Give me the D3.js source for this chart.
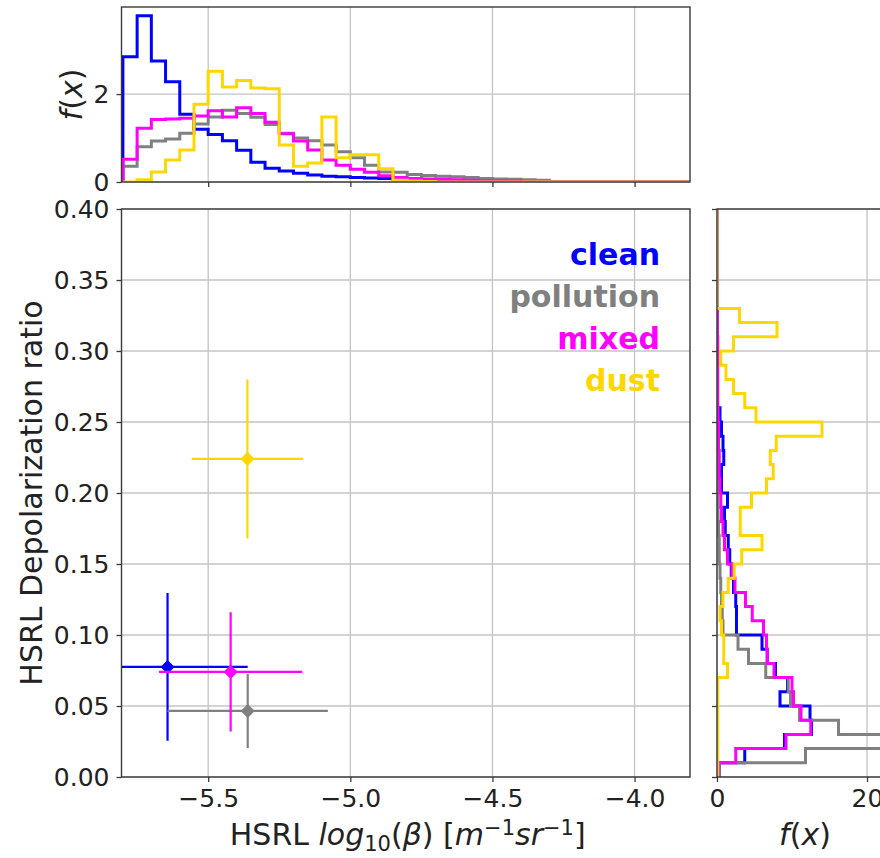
<!DOCTYPE html>
<html><head><meta charset="utf-8">
<script src="https://cdn.jsdelivr.net/npm/d3@7"></script>
<style>
body{margin:0;background:#fff}
text{font-family:'DejaVu Sans',sans-serif;fill:#222}
</style>
</head><body>
<svg id="c" width="880" height="858"></svg>
<script>
// ---------- data ----------
const categories = ["clean", "pollution", "mixed", "dust"];
const colors = ["#0000ff", "#808080", "#ff00ff", "#ffd700"];

// mean / std of log10(beta) and depolarization ratio
const betaMean = [-5.643, -5.361, -5.421, -5.362];
const betaStd = [0.282, 0.282, 0.252, 0.196];
const depolMean = [0.0775, 0.0465, 0.074, 0.224];
const depolStd = [0.052, 0.026, 0.042, 0.056];

// top histogram: bins of log10(beta), start -5.8, width 0.05 (40 bins)
const betaBinStart = -5.8, betaBinWidth = 0.05;
const topClean = [2.85,3.78,2.75,2.28,1.54,1.20,1.08,0.94,0.72,0.45,0.31,0.25,0.20,0.16,0.13,0.12,0.10,0.09,0.08,0.07,0.05,0.04,0.04,0.03,0.03,0.02,0.02,0.01,0.01,0.01,0,0,0,0,0,0,0,0,0,0];
const topPollution = [0.36,0.80,0.93,0.98,1.11,1.32,1.48,1.63,1.56,1.47,1.31,1.11,1.00,0.94,0.84,0.69,0.55,0.38,0.23,0.22,0.17,0.15,0.13,0.12,0.10,0.08,0.07,0.06,0.05,0.04,0,0,0,0,0,0,0,0,0,0];
const topMixed = [0.52,1.22,1.42,1.43,1.45,1.50,1.62,1.48,1.69,1.56,1.36,1.10,0.93,0.73,0.50,0.38,0.29,0.22,0.14,0.10,0.08,0.07,0.06,0.05,0.04,0.03,0.02,0.02,0,0,0,0,0,0,0,0,0,0,0,0];
const topDust = [0,0.05,0.23,0.50,0.73,1.77,2.52,2.16,2.31,2.14,2.12,0.84,0.36,0.43,1.48,0.55,0.62,0.62,0.30,0.04,0.02,0.01,0,0,0,0,0,0,0,0,0,0,0,0,0,0,0,0,0,0];

// right histogram: bins of depolarization ratio, start 0, width 0.01 (40 bins)
const depolBinStart = 0, depolBinWidth = 0.01;
const rightClean = [0.3,3.7,9.0,12.6,12.4,8.4,9.4,7.8,6.7,6.0,2.6,2.6,2.5,2.2,1.9,1.7,1.5,1.1,1.0,1.4,0.6,0.6,0.9,0.8,0.6,0.4,0,0,0,0,0,0,0,0,0,0,0,0,0,0];
const rightPollution = [0.3,11.8,30,16.2,11.0,9.8,9.5,6.5,4.2,2.8,0.8,0.7,0.6,0.5,0.4,0.3,0.3,0.2,0.15,0.1,0.1,0.05,0.05,0.05,0.05,0,0,0,0,0,0,0,0,0,0,0,0,0,0,0];
const rightMixed = [0.2,2.5,9.2,12.5,11.2,10.2,10.0,7.6,6.7,6.6,6.2,4.7,3.8,2.4,2.0,1.4,1.0,0.8,0.6,0.5,0.4,0.3,0.3,0.2,0.2,0.15,0.1,0.1,0.1,0.1,0.1,0.05,0.05,0,0,0,0,0,0,0];
const rightDust = [0.1,0.1,0.1,0.1,0.1,0.1,0.1,1.4,0.9,0.9,0.6,0.4,0.8,1.5,2.3,3.3,6.0,3.1,3.1,4.6,6.6,7.5,7.1,7.9,14.0,5.2,3.7,2.2,1.2,0.5,2.2,8.0,3.0,0,0,0,0,0,0,0];

const xTicks = [-5.5, -5.0, -4.5, -4.0];
const yTicks = [0, 0.05, 0.10, 0.15, 0.20, 0.25, 0.30, 0.35, 0.40];
const topYTicks = [0, 2];
const rightXTicks = [0, 20];

// ---------- layout ----------
const svg = d3.select("#c");
const M = {l: 121.5, r: 690, t: 209, b: 777};
const T = {t: 7, b: 182};
const R = {l: 717, r: 892};

const x = d3.scaleLinear().domain([-5.805, -3.805]).range([M.l, M.r]);
const y = d3.scaleLinear().domain([0, 0.40]).range([M.b, M.t]);
const yTop = d3.scaleLinear().domain([0, 3.98]).range([T.b, T.t]);
const xRight = d3.scaleLinear().domain([0, 23.33]).range([R.l, R.r]);

const gridColor = "#c4c4c4", spineColor = "#3a3a3a";
const tickFont = 25;

const defs = svg.append("defs");
function clip(id, x0, y0, w, h) {
  defs.append("clipPath").attr("id", id).append("rect").attr("x", x0).attr("y", y0).attr("width", w).attr("height", h);
}
clip("cm", M.l, M.t, M.r - M.l, M.b - M.t);
clip("ct", M.l, T.t - 2, M.r - M.l, T.b - T.t + 2);
clip("cr", R.l, M.t, R.r - R.l, M.b - M.t);

function styleAxis(g) {
  g.select(".domain").remove();
  g.selectAll(".tick line").attr("stroke", spineColor).attr("stroke-width", 1.3);
  g.selectAll(".tick text").style("font-size", tickFont + "px").attr("fill", "#222");
}

// ---------- main panel ----------
const gm = svg.append("g");
gm.append("g").selectAll("line").data(xTicks).join("line")
  .attr("x1", d => x(d)).attr("x2", d => x(d)).attr("y1", M.t).attr("y2", M.b)
  .attr("stroke", gridColor).attr("stroke-width", 1.3);
gm.append("g").selectAll("line").data(yTicks).join("line")
  .attr("x1", M.l).attr("x2", M.r).attr("y1", d => y(d)).attr("y2", d => y(d))
  .attr("stroke", gridColor).attr("stroke-width", 1.3);

// error bars
const eb = gm.append("g").attr("clip-path", "url(#cm)");
categories.forEach((c, i) => {
  const g = eb.append("g");
  g.append("line").attr("x1", x(betaMean[i] - betaStd[i])).attr("x2", x(betaMean[i] + betaStd[i]))
    .attr("y1", y(depolMean[i])).attr("y2", y(depolMean[i]))
    .attr("stroke", colors[i]).attr("stroke-width", 2.2);
  g.append("line").attr("x1", x(betaMean[i])).attr("x2", x(betaMean[i]))
    .attr("y1", y(depolMean[i] - depolStd[i])).attr("y2", y(depolMean[i] + depolStd[i]))
    .attr("stroke", colors[i]).attr("stroke-width", 2.2);
  g.append("path").attr("d", d3.symbol(d3.symbolSquare, 100)())
    .attr("transform", `translate(${x(betaMean[i])},${y(depolMean[i])}) rotate(45)`)
    .attr("fill", colors[i]);
});

// legend
const legend = gm.append("g");
categories.forEach((c, i) => {
  legend.append("text").attr("x", 660).attr("y", 265 + i * 42)
    .attr("text-anchor", "end").style("font-size", "30px").style("font-weight", "bold")
    .style("fill", colors[i]).text(c);
});

// axes
const axB = gm.append("g").attr("transform", `translate(0,${M.b})`)
  .call(d3.axisBottom(x).tickValues(xTicks).tickSize(5).tickPadding(7).tickFormat(d3.format(".1f")));
styleAxis(axB);
const axL = gm.append("g").attr("transform", `translate(${M.l},0)`)
  .call(d3.axisLeft(y).tickValues(yTicks).tickSize(5).tickPadding(7).tickFormat(d3.format(".2f")));
styleAxis(axL);
gm.append("rect").attr("x", M.l).attr("y", M.t).attr("width", M.r - M.l).attr("height", M.b - M.t)
  .attr("fill", "none").attr("stroke", spineColor).attr("stroke-width", 1.4);

// labels
const xl = svg.append("text").attr("x", (M.l + M.r) / 2 + 2).attr("y", 845)
  .attr("text-anchor", "middle").style("font-size", "30px");
xl.append("tspan").text("HSRL ");
xl.append("tspan").style("font-style", "italic").text("log");
xl.append("tspan").attr("dy", 6).style("font-size", "21px").text("10");
xl.append("tspan").attr("dy", -6).text("(");
xl.append("tspan").style("font-style", "italic").text("β");
xl.append("tspan").text(") [");
xl.append("tspan").style("font-style", "italic").text("m");
xl.append("tspan").attr("dy", -10).style("font-size", "21px").text("−1");
xl.append("tspan").attr("dy", 10).style("font-style", "italic").text("sr");
xl.append("tspan").attr("dy", -10).style("font-size", "21px").text("−1");
xl.append("tspan").attr("dy", 10).text("]");

svg.append("text").attr("transform", `translate(42,${(M.t + M.b) / 2}) rotate(-90)`)
  .attr("text-anchor", "middle").style("font-size", "30px").text("HSRL Depolarization ratio");

// ---------- top panel ----------
const gt = svg.append("g");
gt.append("g").selectAll("line").data(xTicks).join("line")
  .attr("x1", d => x(d)).attr("x2", d => x(d)).attr("y1", T.t).attr("y2", T.b)
  .attr("stroke", gridColor).attr("stroke-width", 1.3);
gt.append("g").selectAll("line").data(topYTicks).join("line")
  .attr("x1", M.l).attr("x2", M.r).attr("y1", d => yTop(d)).attr("y2", d => yTop(d))
  .attr("stroke", gridColor).attr("stroke-width", 1.3);

function stepTop(vals) {
  const pts = [[betaBinStart, 0]];
  vals.forEach((v, i) => {
    pts.push([betaBinStart + i * betaBinWidth, v]);
    pts.push([betaBinStart + (i + 1) * betaBinWidth, v]);
  });
  pts.push([betaBinStart + vals.length * betaBinWidth, 0]);
  return d3.line().x(d => x(d[0])).y(d => yTop(d[1]))(pts);
}
const topSeries = [topClean, topPollution, topMixed, topDust];
const th = gt.append("g").attr("clip-path", "url(#ct)");
topSeries.forEach((s, i) => {
  th.append("path").attr("d", stepTop(s)).attr("fill", "none")
    .attr("stroke", colors[i]).attr("stroke-width", 3);
});
const atB = gt.append("g").attr("transform", `translate(0,${T.b})`)
  .call(d3.axisBottom(x).tickValues(xTicks).tickSize(5).tickFormat(""));
styleAxis(atB);
const atL = gt.append("g").attr("transform", `translate(${M.l},0)`)
  .call(d3.axisLeft(yTop).tickValues(topYTicks).tickSize(5).tickPadding(7).tickFormat(d3.format("d")));
styleAxis(atL);
gt.append("rect").attr("x", M.l).attr("y", T.t).attr("width", M.r - M.l).attr("height", T.b - T.t)
  .attr("fill", "none").attr("stroke", spineColor).attr("stroke-width", 1.4);
const tyl = svg.append("text").attr("transform", `translate(82,${(T.t + T.b) / 2}) rotate(-90)`)
  .attr("text-anchor", "middle").style("font-size", "30px");
tyl.append("tspan").style("font-style", "italic").text("f");
tyl.append("tspan").text("(");
tyl.append("tspan").style("font-style", "italic").text("x");
tyl.append("tspan").text(")");

// ---------- right panel ----------
const gr = svg.append("g");
gr.append("g").selectAll("line").data(rightXTicks).join("line")
  .attr("x1", d => xRight(d)).attr("x2", d => xRight(d)).attr("y1", M.t).attr("y2", M.b)
  .attr("stroke", gridColor).attr("stroke-width", 1.3);
gr.append("g").selectAll("line").data(yTicks).join("line")
  .attr("x1", R.l).attr("x2", R.r).attr("y1", d => y(d)).attr("y2", d => y(d))
  .attr("stroke", gridColor).attr("stroke-width", 1.3);

function stepRight(vals) {
  const pts = [[0, depolBinStart]];
  vals.forEach((v, i) => {
    pts.push([v, depolBinStart + i * depolBinWidth]);
    pts.push([v, depolBinStart + (i + 1) * depolBinWidth]);
  });
  pts.push([0, depolBinStart + vals.length * depolBinWidth]);
  return d3.line().x(d => xRight(d[0])).y(d => y(d[1]))(pts);
}
const rightSeries = [rightClean, rightPollution, rightMixed, rightDust];
const rh = gr.append("g").attr("clip-path", "url(#cr)");
rightSeries.forEach((s, i) => {
  rh.append("path").attr("d", stepRight(s)).attr("fill", "none")
    .attr("stroke", colors[i]).attr("stroke-width", 3);
});
const arB = gr.append("g").attr("transform", `translate(0,${M.b})`)
  .call(d3.axisBottom(xRight).tickValues(rightXTicks).tickSize(5).tickPadding(7).tickFormat(d3.format("d")));
styleAxis(arB);
const arL = gr.append("g").attr("transform", `translate(${R.l},0)`)
  .call(d3.axisLeft(y).tickValues(yTicks).tickSize(5).tickFormat(""));
styleAxis(arL);
gr.append("rect").attr("x", R.l).attr("y", M.t).attr("width", R.r - R.l).attr("height", M.b - M.t)
  .attr("fill", "none").attr("stroke", spineColor).attr("stroke-width", 1.4);
const rxl = svg.append("text").attr("x", 805).attr("y", 845)
  .attr("text-anchor", "middle").style("font-size", "30px");
rxl.append("tspan").style("font-style", "italic").text("f");
rxl.append("tspan").text("(");
rxl.append("tspan").style("font-style", "italic").text("x");
rxl.append("tspan").text(")");
</script>
</body></html>
